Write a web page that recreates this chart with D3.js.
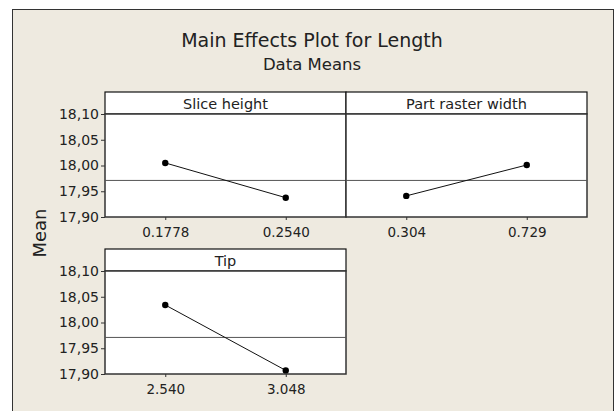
<!doctype html>
<html>
<head>
	<style>
body { margin: 0; background: #fff; }
text { font-family: "DejaVu Sans", sans-serif; fill: #222; }
.frame { fill: #eeeae0; stroke: #333; stroke-width: 1px; }
.strip { fill: #fff; stroke: #111; stroke-width: 1.2px; }
.plot { fill: #fff; stroke: #333; stroke-width: 1.5px; }
.ref { stroke: #555; stroke-width: 1px; }
.effect { fill: none; stroke: #111; stroke-width: 1px; }
.axis path { display: none; }
.axis line { stroke: #333; }
	</style>
</head>
<body>

	<div id="root"></div>

	<script src="https://d3js.org/d3.v7.min.js"></script>
	<script>

	var factors = ['Slice height', 'Part raster width', 'Tip'];
	var levels = [['0.1778', '0.2540'], ['0.304', '0.729'], ['2.540', '3.048']];
	var means = [[18.005, 17.9375], [17.941, 18.001], [18.034, 17.907]];
	var grandMean = 17.971;
	var yTicks = [17.90, 17.95, 18.00, 18.05, 18.10];

	var W = 614, H = 411;
	var panelW = 241, plotH = 103, stripH = 22;
	var left = 105, rowTop = [92, 249];

	var svg = d3.select('#root').append('svg')
		.attr('width', W)
		.attr('height', H);

	svg.append('rect')
		.attr('class', 'frame')
		.attr('x', 12.5).attr('y', 9.5)
		.attr('width', 601).attr('height', 420);

	svg.append('text')
		.attr('x', 312).attr('y', 46.5)
		.attr('text-anchor', 'middle')
		.style('font-size', '19px')
		.text('Main Effects Plot for Length');

	svg.append('text')
		.attr('x', 312).attr('y', 69.5)
		.attr('text-anchor', 'middle')
		.style('font-size', '16.5px')
		.text('Data Means');

	svg.append('text')
		.attr('transform', 'translate(46,233) rotate(-90)')
		.attr('text-anchor', 'middle')
		.style('font-size', '18px')
		.text('Mean');

	var y = d3.scaleLinear().domain([17.90, 18.10]).range([plotH, 0]);
	var fmt = function(d){ return d3.format('.2f')(d).replace('.', ','); };

	factors.forEach(function(f, i){
		var col = i % 2, row = Math.floor(i / 2);
		var gx = left + col * panelW, gy = rowTop[row];
		var g = svg.append('g').attr('transform', 'translate(' + gx + ',' + gy + ')');

		var x = d3.scalePoint().domain(levels[i]).range([0, panelW]).padding(0.5);

		g.append('rect').attr('class', 'strip')
			.attr('width', panelW).attr('height', stripH);
		g.append('text')
			.attr('x', panelW / 2).attr('y', 16.5)
			.attr('text-anchor', 'middle')
			.style('font-size', '14.5px')
			.text(f);

		var p = g.append('g').attr('transform', 'translate(0,' + stripH + ')');
		p.append('rect').attr('class', 'plot')
			.attr('width', panelW).attr('height', plotH);

		p.append('line').attr('class', 'ref')
			.attr('x1', 0).attr('x2', panelW)
			.attr('y1', y(grandMean)).attr('y2', y(grandMean));

		var pts = levels[i].map(function(l, j){ return [x(l), y(means[i][j])]; });
		p.append('path').attr('class', 'effect')
			.attr('d', d3.line()(pts));
		p.selectAll('.dot')
			.data(pts)
			.enter().append('circle')
				.attr('cx', function(d){ return d[0]; })
				.attr('cy', function(d){ return d[1]; })
				.attr('r', 3.2)
				.attr('fill', '#000');

		var xa = p.append('g').attr('class', 'axis')
			.attr('transform', 'translate(0,' + plotH + ')')
			.call(d3.axisBottom(x).tickSize(3).tickPadding(7));
		xa.selectAll('text').style('font-size', '13.5px').attr('fill', '#222');

		if (col === 0) {
			var ya = p.append('g').attr('class', 'axis')
				.call(d3.axisLeft(y).tickValues(yTicks).tickFormat(fmt).tickSize(4).tickPadding(2));
			ya.selectAll('text').style('font-size', '14px').attr('fill', '#222');
		}
	});

	</script>
</body>
</html>
